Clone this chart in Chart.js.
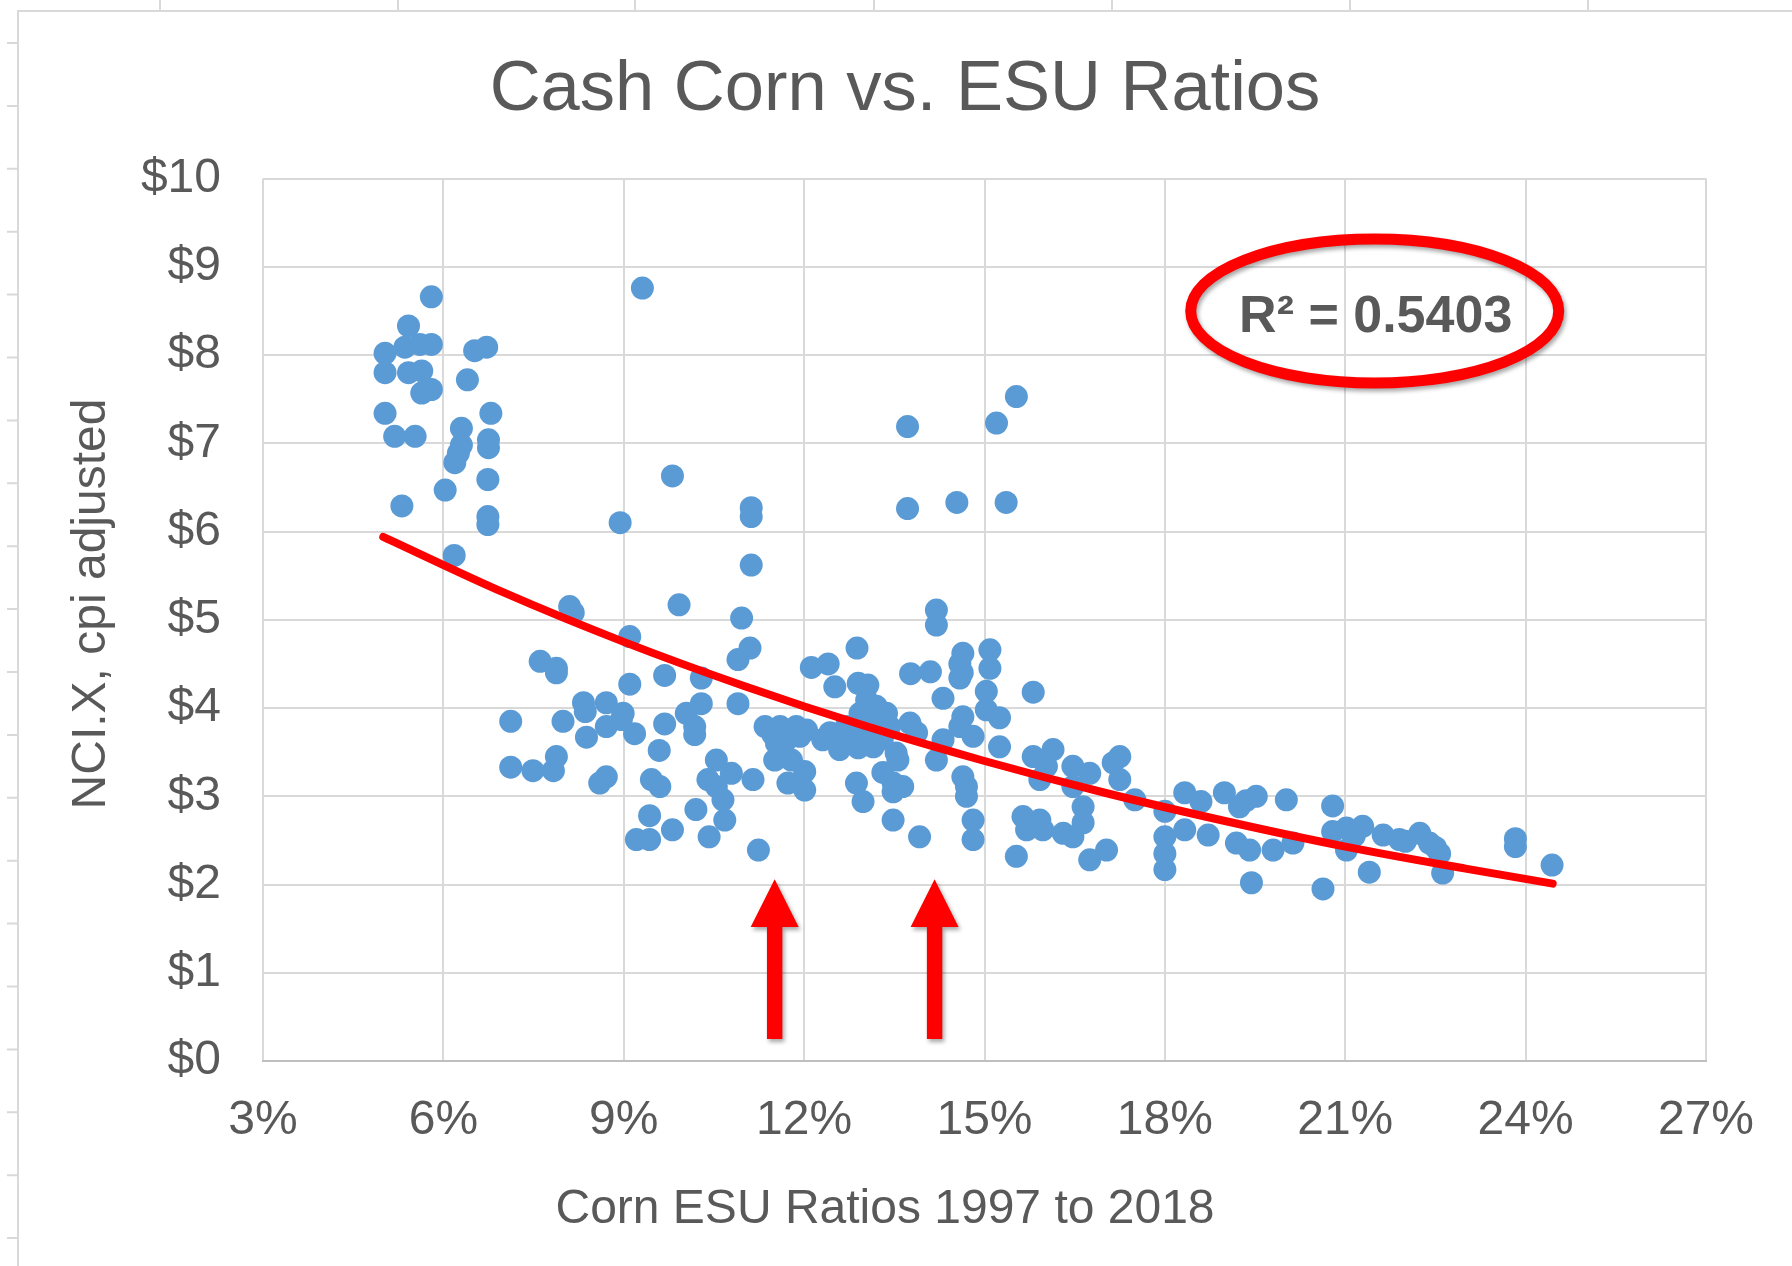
<!DOCTYPE html>
<html>
<head>
<meta charset="utf-8">
<title>Cash Corn vs. ESU Ratios</title>
<script src="https://cdn.jsdelivr.net/npm/chart.js@4.4.1/dist/chart.umd.min.js"></script>
<style>
  html, body { margin: 0; padding: 0; background: #fff; overflow: hidden; }
  canvas { display: block; }
</style>
</head>
<body>
<canvas id="chart" width="1792" height="1266"></canvas>
<script>
// corn ESU ratio (%) and cash corn NCI.X (cpi adjusted $)
const esuRatio = [
  5.80, 5.42, 5.03, 5.36, 5.61, 5.80, 5.03, 5.42, 5.64, 5.64,
  5.80, 6.52, 6.72, 6.40, 5.03, 5.19, 5.53, 6.79, 6.30, 6.30,
  6.25, 6.19, 6.75, 6.75, 6.74, 6.03, 5.31, 6.74, 6.74, 6.18,
  9.31, 9.81, 8.94, 11.12, 11.12, 11.12, 8.10, 8.16, 9.92, 10.96,
  9.10, 11.10, 10.90, 7.61, 7.88, 7.88, 9.68, 10.29, 9.10, 10.90,
  7.12, 7.99, 8.33, 8.36, 8.71, 8.71, 8.99, 8.96, 9.18, 8.38,
  9.68, 10.04, 10.29, 10.18, 10.18, 9.59, 7.12, 7.49, 7.88, 7.83,
  8.71, 8.60, 9.46, 9.60, 10.54, 10.79, 10.40, 10.54, 10.65, 10.68,
  11.15, 10.20, 9.43, 9.21, 9.43, 9.81, 10.42, 11.24, 15.53, 15.20,
  13.72, 13.72, 14.54, 15.36, 14.20, 14.20, 12.88, 12.12, 12.40, 12.51,
  12.90, 13.06, 13.77, 14.10, 14.64, 14.59, 14.63, 14.59, 15.09, 15.09,
  15.03, 15.81, 14.31, 11.35, 11.60, 11.87, 12.04, 11.48, 11.71, 11.93,
  11.54, 11.51, 11.79, 12.01, 11.73, 12.01, 12.43, 12.70, 12.93, 12.76,
  12.59, 13.04, 13.20, 13.37, 13.15, 13.42, 13.76, 13.87, 13.53, 13.56,
  12.31, 13.00, 13.30, 12.90, 13.20, 12.87, 12.98, 13.31, 13.48, 13.64,
  13.48, 13.48, 13.92, 14.20, 14.31, 14.64, 14.81, 14.59, 15.03, 15.25,
  14.64, 14.70, 14.70, 14.81, 14.81, 15.25, 15.53, 15.81, 16.14, 16.03,
  15.92, 16.47, 16.75, 17.25, 17.14, 17.25, 16.47, 15.64, 15.92, 15.70,
  15.97, 16.31, 16.47, 16.64, 16.64, 16.75, 17.03, 17.50, 18.33, 18.60,
  18.99, 19.52, 19.24, 18.00, 18.00, 18.00, 18.00, 18.33, 18.72, 19.19,
  19.41, 19.44, 20.02, 19.80, 20.13, 20.79, 20.63, 20.79, 21.02, 21.02,
  21.29, 21.63, 21.90, 22.24, 22.40, 22.57, 22.62, 21.40, 23.83, 23.83,
  24.44, 21.15, 22.00, 22.50, 19.35
];
const cashCorn = [
  8.66, 8.33, 8.02, 8.09, 8.12, 8.12, 7.80, 7.80, 7.82, 7.57,
  7.61, 8.05, 8.09, 7.72, 7.34, 7.08, 7.08, 7.34, 7.17, 6.98,
  6.89, 6.78, 7.04, 6.95, 6.59, 6.47, 6.29, 6.17, 6.08, 5.73,
  8.76, 6.63, 6.10, 6.27, 6.17, 5.62, 5.15, 5.08, 5.17, 5.02,
  4.81, 4.68, 4.55, 4.53, 4.45, 4.40, 4.37, 4.34, 4.27, 4.05,
  3.85, 3.85, 4.06, 3.96, 4.06, 3.79, 3.94, 3.87, 3.71, 3.67,
  3.82, 3.94, 4.05, 3.79, 3.70, 3.52, 3.33, 3.29, 3.45, 3.29,
  3.22, 3.15, 3.19, 3.11, 3.41, 3.26, 3.19, 3.11, 2.96, 2.73,
  3.19, 2.85, 2.78, 2.51, 2.51, 2.62, 2.54, 2.39, 7.53, 7.23,
  7.19, 6.26, 6.33, 6.33, 5.11, 4.94, 4.68, 4.46, 4.50, 4.24,
  4.28, 4.26, 4.39, 4.41, 4.62, 4.50, 4.40, 4.34, 4.66, 4.45,
  4.19, 4.18, 4.11, 3.79, 3.79, 3.79, 3.75, 3.70, 3.64, 3.68,
  3.60, 3.41, 3.41, 3.28, 3.15, 3.07, 3.72, 3.79, 3.94, 3.60,
  3.53, 4.09, 4.02, 3.94, 3.56, 3.79, 3.83, 3.72, 3.49, 3.41,
  3.64, 3.70, 3.65, 3.55, 3.85, 3.15, 2.94, 3.27, 3.15, 3.11,
  3.05, 2.73, 2.54, 3.41, 3.64, 3.90, 3.68, 3.79, 3.98, 3.89,
  3.22, 3.11, 3.00, 2.73, 2.51, 3.56, 2.32, 3.45, 3.53, 3.34,
  3.19, 3.34, 3.26, 3.45, 3.38, 3.19, 3.11, 2.77, 2.73, 2.62,
  2.62, 2.58, 2.54, 2.88, 2.70, 2.28, 2.39, 2.96, 3.04, 2.94,
  3.04, 3.00, 2.88, 2.83, 2.54, 2.35, 2.17, 2.62, 2.56, 2.47,
  2.39, 2.02, 2.96, 2.39, 2.47, 2.89, 1.95, 2.60, 2.64, 2.39,
  2.66, 2.56, 2.51, 2.58, 2.47, 2.35, 2.13, 2.14, 2.52, 2.43,
  2.22, 2.55, 2.49, 2.42, 2.95
];

// red trend line
const trendRatio = [5.0, 7, 9, 11, 13, 15, 17, 19, 21, 23, 24.45];
const trendPrice = [5.94, 5.31, 4.75, 4.25, 3.80, 3.40, 3.04, 2.72, 2.43, 2.18, 2.01];

const xAxisTitle = 'Corn ESU Ratios 1997 to 2018';
const yAxisTitle = 'NCI.X, cpi adjusted';
const rSquaredLabel = 'R² = 0.5403';
const arrowRatios = [11.51, 14.17];

const FONT = '"Liberation Sans", Arial, sans-serif';
const GREY = '#595959';
Chart.defaults.font.family = FONT;

// excel sheet cells around the chart
const sheetBackground = {
    id: 'sheetBackground',
    beforeDraw(chart) {
        const ctx = chart.ctx;
        ctx.save();
        ctx.fillStyle = '#FFFFFF';
        ctx.fillRect(0, 0, chart.width, chart.height);
        ctx.strokeStyle = '#D9D9D9';
        ctx.lineWidth = 2;
        ctx.beginPath();
        [160, 398, 635, 874, 1112, 1350, 1588].forEach(cx => {
            ctx.moveTo(cx, 0);
            ctx.lineTo(cx, 11);
        });
        for (let ry = 43; ry < chart.height; ry += 62.9) {
            ctx.moveTo(7, ry);
            ctx.lineTo(18, ry);
        }
        ctx.moveTo(18, chart.height);
        ctx.lineTo(18, 11);
        ctx.lineTo(chart.width, 11);
        ctx.stroke();
        ctx.restore();
    }
};

// axis titles sit where excel left them, not centred on the plot
const axisTitles = {
    id: 'axisTitles',
    afterDraw(chart) {
        const ctx = chart.ctx;
        ctx.save();
        ctx.fillStyle = GREY;
        ctx.font = '48px ' + FONT;
        ctx.textAlign = 'center';
        ctx.textBaseline = 'middle';
        ctx.fillText(xAxisTitle, 885, 1210);
        ctx.translate(92, 604);
        ctx.rotate(-Math.PI / 2);
        ctx.fillText(yAxisTitle, 0, 0);
        ctx.restore();
    }
};

// hand drawn arrows + circled R² label
const callouts = {
    id: 'callouts',
    afterDatasetsDraw(chart) {
        const { ctx } = chart;
        const xs = chart.scales.x, ys = chart.scales.y;
        ctx.save();
        ctx.shadowColor = 'rgba(0,0,0,0.35)';
        ctx.shadowBlur = 4;
        ctx.shadowOffsetX = 2;
        ctx.shadowOffsetY = 3;
        ctx.fillStyle = '#FF0000';
        const tip = ys.getPixelForValue(2.06);
        const neck = ys.getPixelForValue(1.52);
        const tail = ys.getPixelForValue(0.25);
        arrowRatios.forEach(v => {
            const cx = xs.getPixelForValue(v);
            ctx.beginPath();
            ctx.moveTo(cx, tip);
            ctx.lineTo(cx + 24, neck);
            ctx.lineTo(cx + 7.7, neck);
            ctx.lineTo(cx + 7.7, tail);
            ctx.lineTo(cx - 7.7, tail);
            ctx.lineTo(cx - 7.7, neck);
            ctx.lineTo(cx - 24, neck);
            ctx.closePath();
            ctx.fill();
        });

        const ex = xs.getPixelForValue(21.49);
        const ey = ys.getPixelForValue(8.50);
        ctx.strokeStyle = '#FF0000';
        ctx.lineWidth = 11;
        ctx.beginPath();
        ctx.ellipse(ex, ey, 184, 72, 0, 0, Math.PI * 2);
        ctx.stroke();
        ctx.restore();

        ctx.save();
        ctx.fillStyle = GREY;
        ctx.font = 'bold 52px ' + FONT;
        ctx.textAlign = 'center';
        ctx.textBaseline = 'alphabetic';
        ctx.fillText(rSquaredLabel, ex + 1, ey + 21);
        ctx.restore();
    }
};

const ctx = document.getElementById('chart').getContext('2d');
new Chart(ctx, {
    type: 'scatter',
    data: {
        datasets: [{
            label: 'Trend',
            data: trendRatio.map((x, i) => ({ x, y: trendPrice[i] })),
            showLine: true,
            borderColor: '#FF0000',
            borderWidth: 8,
            borderCapStyle: 'round',
            cubicInterpolationMode: 'monotone',
            pointRadius: 0,
            fill: false,
            order: 0
        }, {
            label: 'NCI.X',
            data: esuRatio.map((x, i) => ({ x, y: cashCorn[i] })),
            backgroundColor: '#5B9BD5',
            borderWidth: 0,
            pointRadius: 11.5,
            pointHoverRadius: 11.5,
            order: 1
        }]
    },
    options: {
        responsive: false,
        animation: false,
        devicePixelRatio: 1,
        layout: { padding: { left: 18, top: 11, right: 0, bottom: 0 } },
        plugins: {
            legend: { display: false },
            tooltip: { enabled: false },
            title: {
                display: true,
                text: 'Cash Corn vs. ESU Ratios',
                color: GREY,
                font: { size: 70.5, weight: 'normal', lineHeight: 1.2 },
                padding: { top: 37, bottom: 46 }
            }
        },
        scales: {
            x: {
                type: 'linear',
                min: 3,
                max: 27,
                ticks: {
                    stepSize: 3,
                    color: GREY,
                    font: { size: 48 },
                    padding: 31,
                    callback: v => v + '%'
                },
                grid: { color: '#D9D9D9', lineWidth: 2, drawTicks: false },
                border: { color: '#BFBFBF', width: 2 },
                afterFit: s => { s.height = 205; }
            },
            y: {
                min: 0,
                max: 10,
                ticks: {
                    stepSize: 1,
                    color: GREY,
                    font: { size: 48 },
                    padding: 42,
                    callback: v => '$' + v
                },
                grid: { color: '#D9D9D9', lineWidth: 2, drawTicks: false },
                border: { display: false },
                afterFit: s => { s.width = 245; }
            },
            // empty strip so the plot stops where the excel plot area does
            yPad: {
                position: 'right',
                grid: { display: false },
                border: { display: false },
                ticks: { display: false },
                afterFit: s => { s.width = 86; }
            }
        }
    },
    plugins: [sheetBackground, callouts, axisTitles]
});
</script>
</body>
</html>
